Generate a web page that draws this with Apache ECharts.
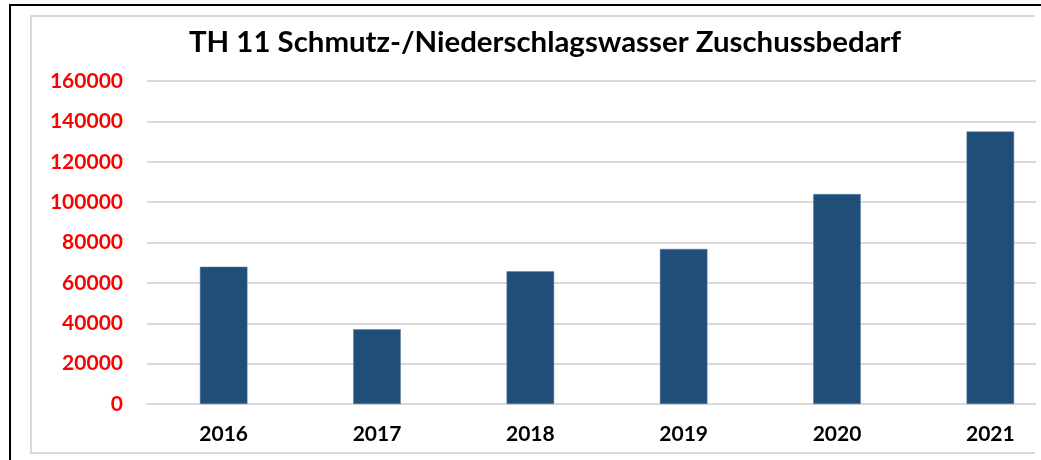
<!DOCTYPE html>
<html>
<head>
<meta charset="utf-8">
<script src="https://cdn.jsdelivr.net/npm/echarts@6/dist/echarts.min.js"></script>
<style>
  html, body { margin: 0; padding: 0; background: #fff; }
  #main { width: 1041px; height: 460px; }
</style>
</head>
<body>
<div id="main"></div>
<script>
// Daten
var years = ['2016', '2017', '2018', '2019', '2020', '2021'];
var zuschuss = [68000, 37000, 65700, 76800, 104000, 135000];
var yTicks = [0, 20000, 40000, 60000, 80000, 100000, 120000, 140000, 160000];

var myChart = echarts.init(document.getElementById('main'));

var option = {
    animation: false,
    backgroundColor: '#fff',
    title: {
        text: 'TH 11 Schmutz-/Niederschlagswasser Zuschussbedarf',
        left: 540,
        top: 23,
        textAlign: 'center',
        textStyle: {
            fontFamily: 'Lato',
            fontWeight: 'bold',
            fontSize: 29.4,
            color: '#000'
        }
    },
    grid: {
        left: 147,
        top: 81,
        width: 920,
        height: 323,
        outerBoundsMode: 'none'
    },
    xAxis: {
        type: 'category',
        data: years,
        axisLine: { show: true, lineStyle: { color: '#d9d9d9', width: 2 } },
        axisTick: { show: false },
        axisLabel: {
            margin: 20,
            fontFamily: 'Lato',
            fontWeight: 'bold',
            fontSize: 21,
            color: '#000'
        }
    },
    yAxis: {
        type: 'value',
        min: yTicks[0],
        max: yTicks[yTicks.length - 1],
        interval: 20000,
        axisLine: { show: false },
        axisTick: { show: false },
        splitLine: { lineStyle: { color: '#d9d9d9', width: 2 } },
        axisLabel: {
            margin: 24,
            fontFamily: 'Lato',
            fontWeight: 'bold',
            fontSize: 21,
            color: '#ff0000',
            formatter: function (v) { return String(v); }
        }
    },
    series: [
        {
            name: 'Zuschussbedarf',
            type: 'bar',
            data: zuschuss,
            barWidth: '31%',
            itemStyle: { color: '#1f4e79', borderColor: '#5b7fa3', borderWidth: 0.5 }
        }
    ],
    graphic: [
        // Gridlinien rechts abschneiden wie im Original
        { type: 'rect', z: 100, shape: { x: 1036, y: 9, width: 10, height: 460 }, style: { fill: '#fff' } },
        // äußerer schwarzer Rahmen
        { type: 'rect', z: 101, shape: { x: 10, y: 5, width: 1100, height: 500 }, style: { fill: 'none', stroke: '#000', lineWidth: 2 } },
        // innerer grauer Rahmen
        { type: 'polyline', z: 101, shape: { points: [[1035, 16], [31, 16], [31, 453], [1035, 453]] }, style: { fill: 'none', stroke: '#d9d9d9', lineWidth: 2 } }
    ]
};

myChart.setOption(option);
</script>
</body>
</html>
